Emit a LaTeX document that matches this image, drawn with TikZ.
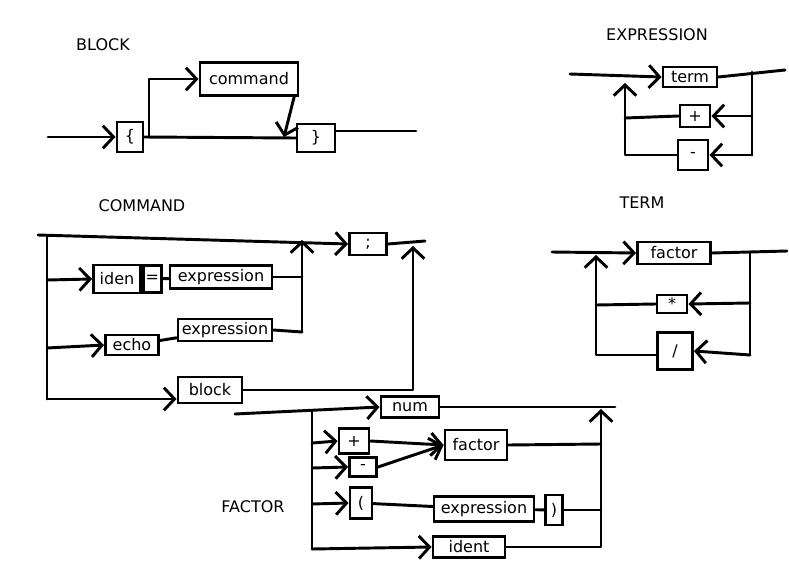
\documentclass[tikz,border=0pt]{standalone}
\usepackage{fontspec}
\setmainfont{DejaVu Sans}
\usetikzlibrary{arrows.meta}

\begin{document}
\begin{tikzpicture}[x=0.75pt,y=-0.75pt,
    tok/.style={draw,line width=2.2pt,inner sep=0pt,font=\fontsize{12}{14}\selectfont},
    wire/.style={line width=2.2pt,line cap=round,line join=round},
    flow/.style={wire,-{Straight Barb[length=8pt,width=17pt,line width=2.2pt]}},
    heading/.style={font=\fontsize{12}{14}\selectfont}]
\useasboundingbox (0,0) rectangle (789,564);

% titles
\foreach \t/\x/\y in {BLOCK/103/45,EXPRESSION/657/35,COMMAND/142/206,TERM/642/203,FACTOR/253/507}
  \node[heading] (T\t) at (\x,\y) {\t};

% BLOCK
\node[tok,minimum width=19.5pt,minimum height=22.5pt] (lbr) at (130,137) {\{};
\node[tok,minimum width=73.5pt,minimum height=24.75pt] (cmd) at (249,79) {command};
\node[tok,minimum width=28.5pt,minimum height=21pt] (rbr) at (316,138) {\}};
\coordinate (bIn) at (48,137);
\coordinate (bOut) at (416,131);
\coordinate (bJ) at (149,137);
\coordinate (bK) at (284,137);
\draw[flow] (bIn) -- (lbr.west);
\draw[wire] (lbr.east) -- (rbr.west);
\draw[wire] (rbr.east |- bOut) -- (bOut);
\draw[flow] (bJ) |- (cmd.west);
\draw[flow] ([xshift=-4pt]cmd.south east) -- (bK);

% EXPRESSION
\node[tok,minimum width=40.5pt,minimum height=15pt] (term) at (690,77) {term};
\node[tok,minimum width=22.5pt,minimum height=16.5pt] (plusE) at (695,116) {+};
\node[tok,minimum width=22.5pt,minimum height=22.5pt] (minusE) at (693,155) {-};
\coordinate (eIn) at (570,74);
\coordinate (eOut) at (785,70);
\coordinate (eR1) at (752,72);
\coordinate (eR2) at (752,116);
\coordinate (eR3) at (752,155);
\coordinate (eL1) at (625,118);
\coordinate (eLtop) at (625,83);
\draw[flow] (eIn) -- (term.west);
\draw[wire] (term.east) -- (eOut);
\draw[wire] (eR1) -- (eR3);
\draw[flow] (eR2) -- (plusE.east);
\draw[flow] (eR3) -- (minusE.east);
\draw[wire] (plusE.west) -- (eL1);
\draw[flow] (minusE.west) -| (eLtop);

% COMMAND
\node[tok,minimum width=27.75pt,minimum height=16.5pt] (semi) at (368,244) {;};
\node[tok,minimum width=35.25pt,minimum height=21pt] (iden) at (117,279) {iden};
\node[tok,minimum width=13.5pt,minimum height=20.25pt,anchor=west] (eq) at (iden.east) {=};
\node[tok,minimum width=76.5pt,minimum height=17.25pt] (exprA) at (221,277) {expression};
\node[tok,minimum width=39.75pt,minimum height=15pt] (echo) at (132,345) {echo};
\node[tok,minimum width=70.5pt,minimum height=16.5pt] (exprB) at (225,330) {expression};
\node[tok,minimum width=48pt,minimum height=19.5pt] (blk) at (210,390) {block};
\coordinate (cIn) at (38,235);
\coordinate (cOut) at (425,241);
\coordinate (cL1) at (47,236);
\coordinate (cL2) at (47,280);
\coordinate (cL3) at (47,348);
\coordinate (cL4) at (47,399);
\coordinate (cR1) at (302,277);
\coordinate (cR2) at (302,332);
\coordinate (cRtop) at (302,240);
\coordinate (cBtop) at (413,246);
\draw[flow] (cIn) -- (semi.west);
\draw[wire] (semi.east) -- (cOut);
\draw[wire] (cL1) -- (cL4);
\draw[flow] (cL2) -- (iden.west);
\draw[wire] (eq) -- (exprA);
\draw[wire] (exprA.east) -- (cR1);
\draw[flow] (cL3) -- (echo.west);
\draw[wire] (echo) -- (exprB);
\draw[wire] (exprB.east) -- (cR2);
\draw[flow] (cR2) -- (cRtop);
\draw[flow] (cL4) -- (blk.west |- cL4);
\draw[flow] (blk.east) -| (cBtop);

% TERM
\node[tok,minimum width=54.75pt,minimum height=16.5pt] (factorT) at (674,253) {factor};
\node[tok,minimum width=22.5pt,minimum height=13.5pt] (star) at (672,304) {*};
\node[tok,minimum width=26.25pt,minimum height=27.75pt] (slash) at (675,351) {/};
\coordinate (tIn) at (552,252);
\coordinate (tOut) at (787,251);
\coordinate (tR1) at (750,252);
\coordinate (tR2) at (750,303);
\coordinate (tR3) at (750,355);
\coordinate (tL1) at (596,305);
\coordinate (tLtop) at (596,255);
\draw[flow] (tIn) -- (factorT.west);
\draw[wire] (factorT.east) -- (tOut);
\draw[wire] (tR1) -- (tR3);
\draw[flow] (tR2) -- (star.east);
\draw[flow] (tR3) -- (slash.east);
\draw[wire] (star.west) -- (tL1);
\draw[flow] (slash.west |- tR3) -| (tLtop);

% FACTOR
\node[tok,minimum width=43.5pt,minimum height=15.75pt] (num) at (410,407) {num};
\node[tok,minimum width=22.5pt,minimum height=18.75pt] (plusF) at (354,441) {+};
\node[tok,minimum width=20.25pt,minimum height=14.25pt] (minusF) at (363,467) {-};
\node[tok,minimum width=46.5pt,minimum height=22.5pt] (factorF) at (476,445) {factor};
\node[tok,minimum width=16.5pt,minimum height=23.25pt] (lpar) at (361,503) {(};
\node[tok,minimum width=75pt,minimum height=18.75pt] (exprC) at (484,509) {expression};
\node[tok,minimum width=12.75pt,minimum height=22.5pt] (rpar) at (554,510) {)};
\node[tok,minimum width=54pt,minimum height=15.75pt] (ident) at (469,547) {ident};
\coordinate (fIn) at (235,414);
\coordinate (fOut) at (615,407);
\coordinate (fL1) at (312,411);
\coordinate (fL2) at (312,443);
\coordinate (fL3) at (312,468);
\coordinate (fL4) at (312,504);
\coordinate (fL5) at (312,549);
\coordinate (fR2) at (601,444);
\coordinate (fR3) at (601,510);
\coordinate (fRtop) at (601,409);
\draw[flow] (fIn) -- (num.west);
\draw[wire] (num.east) -- (fOut);
\draw[wire] (fL1) -- (fL5);
\draw[flow] (fL2) -- (plusF.west);
\draw[flow] (fL3) -- (minusF.west);
\draw[flow] (plusF.east) -- (factorF.west);
\draw[flow] (minusF.east) -- (factorF.west);
\draw[wire] (factorF.east) -- (fR2);
\draw[flow] (fL4) -- (lpar.west);
\draw[wire] (lpar) -- (exprC);
\draw[wire] (exprC) -- (rpar);
\draw[wire] (rpar.east) -- (fR3);
\draw[flow] (fL5) -- (ident.west);
\draw[flow] (ident.east) -| (fRtop);
\end{tikzpicture}
\end{document}
